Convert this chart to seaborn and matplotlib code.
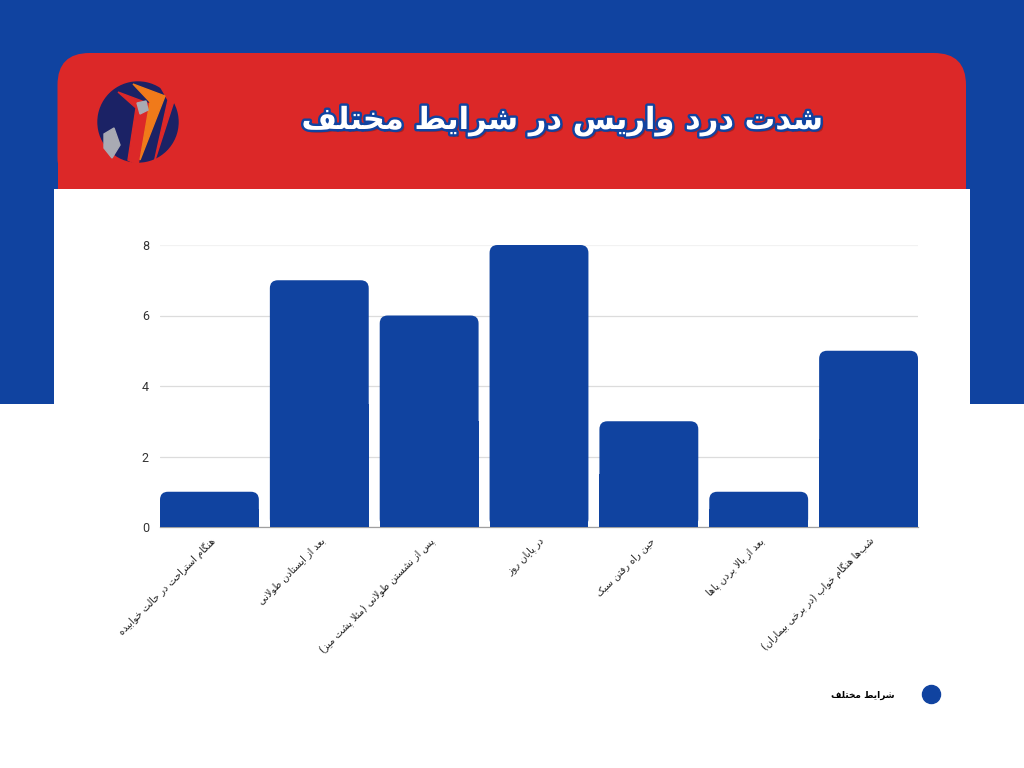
import numpy as np
import pandas as pd
import matplotlib as mpl
import matplotlib.pyplot as plt
import matplotlib.patheffects as pe
from matplotlib.patches import FancyBboxPatch, Rectangle, Circle, Polygon
from matplotlib.lines import Line2D
import seaborn as sns

title = "شدت درد واریس در شرایط مختلف"
series_name = "شرایط مختلف"
categories = [
    "هنگام استراحت در حالت خوابیده",
    "بعد از ایستادن طولانی",
    "پس از نشستن طولانی (مثلاً پشت میز)",
    "در پایان روز",
    "حین راه رفتن سبک",
    "بعد از بالا بردن پاها",
    "شب‌ها هنگام خواب (در برخی بیماران)",
]
values = [1, 7, 6, 8, 3, 1, 5]
yticks = [0, 2, 4, 6, 8]

BLUE = "#1043a0"
RED = "#dc2828"

# matplotlib does no arabic shaping, so pick the presentation forms by hand
# (isolated, final, initial, medial)
FORMS = {
    'ا': (0xFE8D, 0xFE8E, None, None), 'ب': (0xFE8F, 0xFE90, 0xFE91, 0xFE92),
    'ت': (0xFE95, 0xFE96, 0xFE97, 0xFE98), 'ث': (0xFE99, 0xFE9A, 0xFE9B, 0xFE9C),
    'ج': (0xFE9D, 0xFE9E, 0xFE9F, 0xFEA0), 'ح': (0xFEA1, 0xFEA2, 0xFEA3, 0xFEA4),
    'خ': (0xFEA5, 0xFEA6, 0xFEA7, 0xFEA8), 'د': (0xFEA9, 0xFEAA, None, None),
    'ذ': (0xFEAB, 0xFEAC, None, None), 'ر': (0xFEAD, 0xFEAE, None, None),
    'ز': (0xFEAF, 0xFEB0, None, None), 'س': (0xFEB1, 0xFEB2, 0xFEB3, 0xFEB4),
    'ش': (0xFEB5, 0xFEB6, 0xFEB7, 0xFEB8), 'ص': (0xFEB9, 0xFEBA, 0xFEBB, 0xFEBC),
    'ض': (0xFEBD, 0xFEBE, 0xFEBF, 0xFEC0), 'ط': (0xFEC1, 0xFEC2, 0xFEC3, 0xFEC4),
    'ظ': (0xFEC5, 0xFEC6, 0xFEC7, 0xFEC8), 'ع': (0xFEC9, 0xFECA, 0xFECB, 0xFECC),
    'غ': (0xFECD, 0xFECE, 0xFECF, 0xFED0), 'ف': (0xFED1, 0xFED2, 0xFED3, 0xFED4),
    'ق': (0xFED5, 0xFED6, 0xFED7, 0xFED8), 'ل': (0xFEDD, 0xFEDE, 0xFEDF, 0xFEE0),
    'م': (0xFEE1, 0xFEE2, 0xFEE3, 0xFEE4), 'ن': (0xFEE5, 0xFEE6, 0xFEE7, 0xFEE8),
    'ه': (0xFEE9, 0xFEEA, 0xFEEB, 0xFEEC), 'و': (0xFEED, 0xFEEE, None, None),
    'پ': (0xFB56, 0xFB57, 0xFB58, 0xFB59), 'چ': (0xFB7A, 0xFB7B, 0xFB7C, 0xFB7D),
    'ژ': (0xFB8A, 0xFB8B, None, None), 'ک': (0xFB8E, 0xFB8F, 0xFB90, 0xFB91),
    'گ': (0xFB92, 0xFB93, 0xFB94, 0xFB95), 'ی': (0xFBFC, 0xFBFD, 0xFBFE, 0xFBFF),
}


def shape(text):
    chars = list(text.replace('\u064B', ''))
    n = len(chars)
    res = []
    i = 0
    while i < n:
        c = chars[i]
        if c not in FORMS:
            res.append(c)
            i += 1
            continue
        prev = chars[i - 1] if i > 0 else None
        link_prev = prev in FORMS and FORMS[prev][2] is not None
        if c == 'ل' and i + 1 < n and chars[i + 1] == 'ا':
            res.append(chr(0xFEFC if link_prev else 0xFEFB))
            i += 2
            continue
        nxt = chars[i + 1] if i + 1 < n else None
        link_next = FORMS[c][2] is not None and nxt in FORMS
        iso, fin, ini, med = FORMS[c]
        if link_prev and link_next:
            g = med
        elif link_prev:
            g = fin
        elif link_next:
            g = ini
        else:
            g = iso
        res.append(chr(g))
        i += 1
    s = ''.join(res).replace('\u200c', '')[::-1]
    return s.translate({ord('('): ')', ord(')'): '('})


sns.set_theme(style="white")
plt.rcParams['font.family'] = ['DejaVu Sans']

W, H = 1024, 768
fig = plt.figure(figsize=(W / 100, H / 100), dpi=100)
fig.patch.set_facecolor("white")


def px(x, y, w, h):
    # top-left pixel box -> figure fraction (x, y, w, h)
    return x / W, 1 - (y + h) / H, w / W, h / H


# background frame
x0, y0, w0, h0 = px(0, 0, W, 404)
fig.add_artist(Rectangle((x0, y0), w0, h0, transform=fig.transFigure, color=BLUE, lw=0, zorder=0))
x0, y0, w0, h0 = px(57.5, 53, 908.5, 136)
fig.add_artist(FancyBboxPatch((x0, y0), w0, h0, boxstyle="round,pad=0,rounding_size=%f" % (32 / W),
                              mutation_aspect=W / H, transform=fig.transFigure,
                              color=RED, lw=0, zorder=1))
x0, y0, w0, h0 = px(57.5, 120, 908.5, 69)
fig.add_artist(Rectangle((x0, y0), w0, h0, transform=fig.transFigure, color=RED, lw=0, zorder=1))
x0, y0, w0, h0 = px(54, 189, 916, 579)
fig.add_artist(Rectangle((x0, y0), w0, h0, transform=fig.transFigure, color="white", lw=0, zorder=2))

# logo
fig.add_artist(Circle((138, H - 122), 40, transform=None, color="#1b2265", zorder=3))
fig.add_artist(Polygon([(118, H - 92), (150, H - 104), (138, H - 165), (128, H - 160), (136, H - 108)],
                       closed=True, transform=None, color=RED, zorder=4))
fig.add_artist(Polygon([(133, H - 84), (165, H - 96), (140, H - 160), (150, H - 102)],
                       closed=True, transform=None, color="#f07a1a", zorder=5))
fig.add_artist(Polygon([(155, H - 77), (176, H - 95), (154, H - 163), (168, H - 100)],
                       closed=True, transform=None, color=RED, zorder=4))
fig.add_artist(Polygon([(104, H - 134), (114, H - 128), (120, H - 145), (112, H - 158), (104, H - 148)],
                       closed=True, transform=None, color="#a9aab3", zorder=5))
fig.add_artist(Polygon([(137, H - 103), (146, H - 101), (148, H - 110), (140, H - 114)],
                       closed=True, transform=None, color="#a9aab3", zorder=5))

fig.text(562 / W, 1 - 121 / H, shape(title), ha="center", va="center", color="white",
         fontsize=22, fontweight="bold", zorder=6,
         path_effects=[pe.withSimplePatchShadow(offset=(2, -2), shadow_rgbFace="#7a1a1a", alpha=0.5),
                       pe.withStroke(linewidth=3.5, foreground=BLUE)])

# chart
ax = fig.add_axes([160 / W, 1 - 527 / H, 758 / W, 282 / H], zorder=5)
ax.set_facecolor("none")
df = pd.DataFrame({"cat": [shape(c) for c in categories], "val": values})
sns.barplot(data=df, x="cat", y="val", color=BLUE, saturation=1, width=0.9, ax=ax, zorder=3)
ax.set_xlim(-0.45, 6.45)
ax.set_ylim(0, 8)

# rounded tops on the bars
r = 8 / 110
aspect = 110 / 35.25
for p in list(ax.patches):
    bx, by, bw, bh = p.get_x(), p.get_y(), p.get_width(), p.get_height()
    p.set_visible(False)
    ax.add_patch(FancyBboxPatch((bx, by), bw, bh, boxstyle="round,pad=0,rounding_size=%f" % r,
                                mutation_aspect=aspect, color=BLUE, lw=0, zorder=3))
    ax.add_patch(Rectangle((bx, by), bw, bh / 2, color=BLUE, lw=0, zorder=3))

ax.set_yticks(yticks)
ax.yaxis.grid(True, color="#dcdcdc", lw=0.9, zorder=0)
ax.yaxis.get_gridlines()[-1].set_color("#f2f2f2")
for s in ["left", "right", "top"]:
    ax.spines[s].set_visible(False)
ax.spines["bottom"].set_color("#a0a0a0")
ax.spines["bottom"].set_linewidth(0.9)
ax.tick_params(axis="y", length=0, pad=8, labelsize=9, labelcolor="#333333")
ax.tick_params(axis="x", length=0, pad=6, labelsize=7, labelcolor="#222222")
for lab in ax.get_yticklabels():
    lab.set_fontfamily("Roboto")
plt.setp(ax.get_xticklabels(), rotation=45, ha="right", rotation_mode="anchor")
ax.set_xlabel("")
ax.set_ylabel("")

handle = Line2D([], [], marker="o", ls="", color=BLUE, markersize=13)
fig.legend([handle], [shape(series_name)], loc="center right", bbox_to_anchor=(948 / W, 1 - 695 / H),
           frameon=False, markerfirst=False, handletextpad=3.0, labelcolor="black",
           prop={"size": 6.5, "weight": "bold"})

plt.savefig("out.png", dpi=100)
